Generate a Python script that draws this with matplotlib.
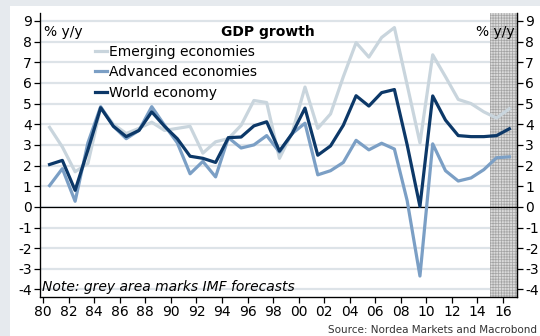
import numpy as np
import matplotlib
matplotlib.use("Agg")
import matplotlib.pyplot as plt
from matplotlib.patches import Rectangle

# GDP growth, % y/y (IMF WEO, 2015-16 forecasts)
years = np.arange(1980, 2017)
emerging = [3.85, 2.9, 1.7, 2.1, 4.8, 4.0, 3.55, 3.8, 4.1, 3.7, 3.8, 3.9, 2.6, 3.15,
            3.3, 3.95, 5.15, 5.05, 2.35, 3.6, 5.8, 3.8, 4.5, 6.3, 7.95, 7.25, 8.2, 8.68,
            5.9, 3.1, 7.36, 6.3, 5.2, 5.0, 4.6, 4.3, 4.75]
advanced = [1.03, 1.85, 0.27, 3.1, 4.85, 3.9, 3.3, 3.7, 4.85, 3.95, 3.1, 1.6, 2.2, 1.45,
            3.35, 2.85, 3.0, 3.45, 2.65, 3.55, 4.05, 1.55, 1.75, 2.15, 3.22, 2.76, 3.08, 2.8,
            0.3, -3.35, 3.05, 1.75, 1.25, 1.4, 1.8, 2.38, 2.42]
world = [2.05, 2.25, 0.8, 2.75, 4.8, 3.9, 3.4, 3.7, 4.6, 3.9, 3.3, 2.45, 2.35, 2.15,
         3.35, 3.38, 3.92, 4.12, 2.7, 3.55, 4.78, 2.5, 2.95, 3.95, 5.38, 4.88, 5.53, 5.68,
         3.0, 0.02, 5.37, 4.2, 3.45, 3.4, 3.4, 3.45, 3.78]
forecast_start, forecast_end = 2015, 2017.1
xtick_years = np.arange(1980, 2017, 2)
xtick_labels = ["%02d" % (y % 100) for y in xtick_years]
yticks = np.arange(-4, 10)

plt.rcParams['font.family'] = 'DejaVu Sans'
plt.rcParams['axes.unicode_minus'] = False
plt.rcParams['hatch.linewidth'] = 0.5
plt.rcParams['hatch.color'] = '#a4a4a4'

fig = plt.figure(figsize=(5.4, 3.36), dpi=100, facecolor='#e6eaee')
# white panel, light strip left and top
fig.patches.append(Rectangle((10/540, 0), 1, 1 - 6/336, transform=fig.transFigure,
                             facecolor='white', edgecolor='none', zorder=-5))

ax = fig.add_axes([40/540, 1 - 296.7/336, 477/540, 284/336])
ax.set_facecolor('none')

x = years + 0.5
ax.axvspan(forecast_start, forecast_end, facecolor='#dadada', hatch='++++++',
           edgecolor='#a4a4a4', linewidth=0, zorder=1)
for yv in yticks:
    ax.axhline(yv, color='#dde3e8', lw=1.6, zorder=0.5)
ax.axhline(0, color='black', lw=0.9, zorder=2)

ax.plot(x, emerging, color='#c9d5dd', lw=2.3, label='Emerging economies', zorder=3)
ax.plot(x, advanced, color='#7b9fc5', lw=2.3, label='Advanced economies', zorder=4)
ax.plot(x, world, color='#0c3868', lw=2.3, label='World economy', zorder=5)

ax.set_xlim(1979.75, forecast_end)
ax.set_ylim(-4.35, 9.4)
ax.set_yticks(yticks)
ax.set_xticks(xtick_years)
ax.set_xticklabels(xtick_labels)
ax.tick_params(axis='both', labelsize=10, length=4, width=0.9, color='black', pad=2)
ax.spines['top'].set_visible(False)
for s in ['left', 'right', 'bottom']:
    ax.spines[s].set_linewidth(0.9)

ax2 = ax.twinx()
ax2.set_ylim(ax.get_ylim())
ax2.set_yticks(yticks)
ax2.tick_params(axis='y', labelsize=10, length=4, width=0.9, pad=2)
ax2.spines['top'].set_visible(False)
ax2.spines['right'].set_linewidth(0.9)

leg = ax.legend(loc='upper left', bbox_to_anchor=(0.115, 0.886), frameon=False,
                fontsize=10, handlelength=0.9, handletextpad=0.15, labelspacing=0.45,
                borderaxespad=0, borderpad=0)

ax.text(0.008, 0.932, '% y/y', transform=ax.transAxes, fontsize=10, va='center', ha='left')
ax.text(0.995, 0.932, '% y/y', transform=ax.transAxes, fontsize=10, va='center', ha='right')
ax.text(0.478, 0.932, 'GDP growth', transform=ax.transAxes, fontsize=10, va='center',
        ha='center', fontweight='bold')
ax.text(0.005, 0.008, 'Note: grey area marks IMF forecasts', transform=ax.transAxes,
        fontsize=10, style='italic', va='bottom', ha='left', zorder=6)
fig.text(0.995, 0.018, 'Source: Nordea Markets and Macrobond', fontsize=7.5,
         color='#333333', ha='right', va='center')

fig.savefig('out.png', dpi=100, facecolor=fig.get_facecolor())
